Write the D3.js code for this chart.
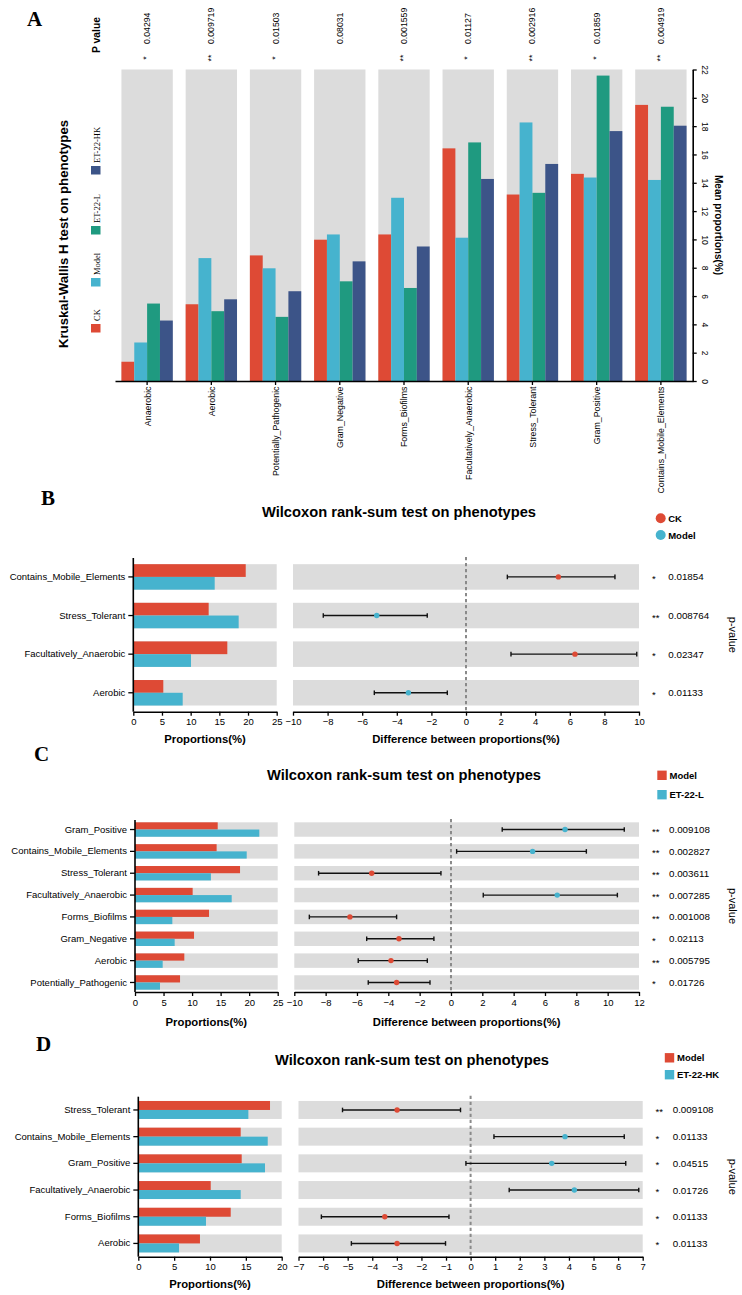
<!DOCTYPE html>
<html><head><meta charset="utf-8">
<script src="https://cdn.jsdelivr.net/npm/d3@7"></script>
<style>
body{margin:0;background:#fff}
svg{display:block}
text{font-family:"Liberation Sans",Arial,Helvetica,sans-serif;fill:#000}
.letter{font-family:"Liberation Serif","Times New Roman",serif;font-weight:bold;font-size:21px}
</style>
</head><body>
<svg id="chart" width="742" height="1295"></svg>
<script>
// ---------------- Panel A data ----------------
const phenotypesA = ["Anaerobic","Aerobic","Potentially_Pathogenic","Gram_Negative","Forms_Biofilms","Facultatively_Anaerobic","Stress_Tolerant","Gram_Positive","Contains_Mobile_Elements"];
const groupsA = ["CK","Model","ET-22-L","ET-22-HK"];
const meanCK    = [1.36,5.42,8.87,9.98,10.35,16.43,13.17,14.63,19.5];
const meanModel = [2.72,8.68,7.96,10.35,12.94,10.12,18.26,14.37,14.2];
const meanL     = [5.47,4.93,4.53,7.04,6.57,16.85,13.29,21.57,19.37];
const meanHK    = [4.27,5.77,6.34,8.45,9.5,14.27,15.33,17.65,18.03];
const pValuesA  = ["0.04294","0.009719","0.01503","0.08031","0.001559","0.01127","0.002916","0.01859","0.004919"];
const starsA    = ["*","**","*","","**","*","**","*","**"];
const ticksA    = [0,2,4,6,8,10,12,14,16,18,20,22];

// ---------------- Panel B data ----------------
const catsB   = ["Contains_Mobile_Elements","Stress_Tolerant","Facultatively_Anaerobic","Aerobic"];
const groupsB = ["CK","Model"];
const propB1  = [19.6,13.14,16.39,5.23];
const propB2  = [14.19,18.37,10.06,8.61];
const diffB   = [5.34,-5.16,6.3,-3.33];
const lowB    = [2.39,-8.25,2.6,-5.3];
const highB   = [8.61,-2.24,9.87,-1.08];
const starsB  = ["*","**","*","*"];
const pB      = ["0.01854","0.008764","0.02347","0.01133"];
const ticksBLeft  = [0,5,10,15,20,25];
const ticksBRight = [-10,-8,-6,-4,-2,0,2,4,6,8,10];

// ---------------- Panel C data ----------------
const catsC   = ["Gram_Positive","Contains_Mobile_Elements","Stress_Tolerant","Facultatively_Anaerobic","Forms_Biofilms","Gram_Negative","Aerobic","Potentially_Pathogenic"];
const groupsC = ["Model","ET-22-L"];
const propC1  = [14.49,14.3,18.4,10.1,12.97,10.34,8.64,7.89];
const propC2  = [21.78,19.57,13.3,16.94,6.54,6.95,4.85,4.38];
const diffC   = [7.28,5.21,-5.06,6.78,-6.45,-3.32,-3.83,-3.47];
const lowC    = [3.27,0.36,-8.45,2.06,-9.04,-5.38,-5.92,-5.28];
const highC   = [11.06,8.64,-0.64,10.62,-3.47,-1.09,-1.51,-1.34];
const starsC  = ["**","**","**","**","**","*","**","*"];
const pC      = ["0.009108","0.002827","0.003611","0.007285","0.001008","0.02113","0.005795","0.01726"];
const ticksCLeft  = [0,5,10,15,20,25];
const ticksCRight = [-10,-8,-6,-4,-2,0,2,4,6,8,10,12];

// ---------------- Panel D data ----------------
const catsD   = ["Stress_Tolerant","Contains_Mobile_Elements","Gram_Positive","Facultatively_Anaerobic","Forms_Biofilms","Aerobic"];
const groupsD = ["Model","ET-22-HK"];
const propD1  = [18.37,14.28,14.42,10.1,12.89,8.6];
const propD2  = [15.35,18.05,17.67,14.28,9.44,5.68];
const diffD   = [-2.99,3.84,3.3,4.22,-3.49,-2.99];
const lowD    = [-5.21,0.95,-0.19,1.57,-6.07,-4.85];
const highD   = [-0.41,6.25,6.31,6.84,-0.88,-1.02];
const starsD  = ["**","*","*","*","*","*"];
const pD      = ["0.009108","0.01133","0.04515","0.01726","0.01133","0.01133"];
const ticksDLeft  = [0,5,10,15,20];
const ticksDRight = [-7,-6,-5,-4,-3,-2,-1,0,1,2,3,4,5,6,7];

// ---------------- styling ----------------
const RED = "#DE4A35", BLUE = "#46B3CE", GREEN = "#1F9A80", NAVY = "#3C5488", GREY = "#DCDCDC";
const svg = d3.select("#chart");

function styleAxis(g, fs) {
  g.select(".domain").attr("stroke","#000").attr("stroke-width",1.6);
  g.selectAll(".tick line").attr("stroke","#000").attr("stroke-width",1.3);
  g.selectAll(".tick text").attr("font-size",fs).attr("fill","#000")
    .attr("font-family","'Liberation Sans',Arial,sans-serif");
}

// ================= Panel A =================
(function(){
  const seriesA = [meanCK, meanModel, meanL, meanHK];
  const colorsA = [RED, BLUE, GREEN, NAVY];
  const x = d3.scaleBand().domain(phenotypesA).range([115, 693]).paddingInner(0.2).paddingOuter(0.1);
  const xs = d3.scaleBand().domain(groupsA).range([0, x.bandwidth()]);
  const y = d3.scaleLinear().domain([0, 22]).range([381, 69.5]);
  const g = svg.append("g");

  g.append("text").attr("class","letter").attr("x",27).attr("y",26).text("A");

  g.selectAll("rect.bgA").data(phenotypesA).join("rect").attr("class","bgA")
    .attr("x", d => x(d)).attr("y", y(22)).attr("width", x.bandwidth())
    .attr("height", y(0) - y(22)).attr("fill", GREY);

  groupsA.forEach((grp, gi) => {
    g.selectAll("rect.bar" + gi).data(phenotypesA).join("rect").attr("class","bar" + gi)
      .attr("x", d => x(d) + xs(grp)).attr("width", xs.bandwidth())
      .attr("y", (d, i) => y(seriesA[gi][i]))
      .attr("height", (d, i) => y(0) - y(seriesA[gi][i]))
      .attr("fill", colorsA[gi]);
  });

  // bottom axis
  const ax = g.append("g").attr("transform","translate(0,381)")
    .call(d3.axisBottom(x).tickSize(4).tickSizeOuter(0).tickFormat(""));
  styleAxis(ax, 9);
  g.selectAll("text.xlabA").data(phenotypesA).join("text").attr("class","xlabA")
    .attr("transform", d => `translate(${x(d) + x.bandwidth()/2 + 3.4},386.5) rotate(-90)`)
    .attr("text-anchor","end").attr("font-size",8.8).text(d => d);

  // right axis
  const ay = g.append("g").attr("transform","translate(692.7,0)")
    .call(d3.axisRight(y).tickValues(ticksA).tickSize(4).tickSizeOuter(0));
  styleAxis(ay, 8.5);
  ay.selectAll(".tick text").attr("x",0).attr("dy",0)
    .attr("transform","translate(9.5,0) rotate(90)").attr("text-anchor","middle");
  g.append("text").attr("transform","translate(715,225) rotate(90)")
    .attr("text-anchor","middle").attr("font-weight","bold").attr("font-size",10)
    .text("Mean proportions(%)");

  // p values
  g.append("text").attr("transform","translate(100,35) rotate(-90)")
    .attr("text-anchor","middle").attr("font-weight","bold").attr("font-size",10.3).text("P value");
  g.selectAll("text.pA").data(phenotypesA).join("text").attr("class","pA")
    .attr("transform", d => `translate(${x(d) + x.bandwidth()/2 + 3},44) rotate(-90)`)
    .attr("text-anchor","start").attr("font-size",8.7).text((d,i) => pValuesA[i]);
  g.selectAll("text.sA").data(phenotypesA).join("text").attr("class","sA")
    .attr("transform", d => `translate(${x(d) + x.bandwidth()/2 + 2.2},58) rotate(-90)`)
    .attr("text-anchor","middle").attr("font-size",8.7).text((d,i) => starsA[i]);

  // title
  g.append("text").attr("transform","translate(68,234) rotate(-90)")
    .attr("text-anchor","middle").attr("font-weight","bold").attr("font-size",13.2)
    .text("Kruskal-Wallis H test on phenotypes");

  // legend
  const legTop = [324, 278, 226, 166];
  groupsA.forEach((grp, gi) => {
    g.append("rect").attr("x",91).attr("y",legTop[gi]).attr("width",9.5).attr("height",8.5).attr("fill",colorsA[gi]);
    g.append("text").attr("transform",`translate(99.5,${legTop[gi]-3}) rotate(-90)`)
      .attr("text-anchor","start").attr("font-size",8.5)
      .attr("font-family","'Liberation Serif','Times New Roman',serif").style("font-family","'Liberation Serif','Times New Roman',serif")
      .text(grp);
  });
})();

// ================= Panels B, C, D =================
function drawPanel(p) {
  const g = svg.append("g");
  const y = d3.scaleBand().domain(p.cats).range(p.yRange).paddingInner(p.pi).paddingOuter(p.po);
  const xl = d3.scaleLinear().domain(p.leftDomain).range(p.leftRange);
  const xr = d3.scaleLinear().domain(p.rightDomain).range(p.rightRange);
  const bw = y.bandwidth();
  const yb = p.yRange[1];

  g.append("text").attr("class","letter").attr("x",p.letterPos[0]).attr("y",p.letterPos[1]).text(p.letter);
  g.append("text").attr("x",p.titlePos[0]).attr("y",p.titlePos[1]).attr("text-anchor","middle")
    .attr("font-weight","bold").attr("font-size",14.7).text("Wilcoxon rank-sum test on phenotypes");

  // left bars
  g.selectAll("rect.lbg").data(p.cats).join("rect").attr("class","lbg")
    .attr("x", xl(p.leftDomain[0])).attr("y", d => y(d))
    .attr("width", xl(p.leftDomain[1]) - xl(p.leftDomain[0])).attr("height", bw).attr("fill", GREY);
  g.selectAll("rect.b1").data(p.cats).join("rect").attr("class","b1")
    .attr("x", xl(0)).attr("y", d => y(d)).attr("height", bw/2)
    .attr("width", (d,i) => xl(p.v1[i]) - xl(0)).attr("fill", RED);
  g.selectAll("rect.b2").data(p.cats).join("rect").attr("class","b2")
    .attr("x", xl(0)).attr("y", d => y(d) + bw/2).attr("height", bw/2)
    .attr("width", (d,i) => xl(p.v2[i]) - xl(0)).attr("fill", BLUE);

  const axl = g.append("g").attr("transform",`translate(${p.leftRange[0]},0)`)
    .call(d3.axisLeft(y).tickSize(5).tickPadding(3).tickSizeOuter(0));
  styleAxis(axl, 9.5);
  axl.select(".domain").attr("d", `M0,${p.yRange[0]}V${yb}`);
  const axb = g.append("g").attr("transform",`translate(0,${yb})`)
    .call(d3.axisBottom(xl).tickValues(p.leftTicks).tickSize(4).tickPadding(3).tickSizeOuter(0));
  styleAxis(axb, 9.5);
  g.append("text").attr("x",(p.leftRange[0]+p.leftRange[1])/2).attr("y",p.xlabY)
    .attr("text-anchor","middle").attr("font-weight","bold").attr("font-size",11.3).text("Proportions(%)");

  // right CI plot
  g.selectAll("rect.rbg").data(p.cats).join("rect").attr("class","rbg")
    .attr("x", xr(p.rightDomain[0])).attr("y", d => y(d))
    .attr("width", xr(p.rightDomain[1]) - xr(p.rightDomain[0])).attr("height", bw).attr("fill", GREY);
  g.append("line").attr("x1",xr(0)).attr("x2",xr(0)).attr("y1",p.yRange[0]-1).attr("y2",yb)
    .attr("stroke","#8a8a8a").attr("stroke-width",2).attr("stroke-dasharray","3.2,2.8");
  const cy = d => y(d) + bw/2;
  g.selectAll("line.ci").data(p.cats).join("line").attr("class","ci")
    .attr("x1",(d,i)=>xr(p.lo[i])).attr("x2",(d,i)=>xr(p.hi[i])).attr("y1",cy).attr("y2",cy)
    .attr("stroke","#111").attr("stroke-width",1.4);
  ["lo","hi"].forEach(k => {
    g.selectAll("line.cap"+k).data(p.cats).join("line").attr("class","cap"+k)
      .attr("x1",(d,i)=>xr(p[k][i])).attr("x2",(d,i)=>xr(p[k][i]))
      .attr("y1",d=>cy(d)-2.3).attr("y2",d=>cy(d)+2.3).attr("stroke","#111").attr("stroke-width",1.4);
  });
  g.selectAll("circle.pt").data(p.cats).join("circle").attr("class","pt")
    .attr("cx",(d,i)=>xr(p.diff[i])).attr("cy",cy).attr("r",2.7)
    .attr("fill",(d,i)=> p.v1[i] >= p.v2[i] ? RED : BLUE);

  const axr = g.append("g").attr("transform",`translate(0,${yb})`)
    .call(d3.axisBottom(xr).tickValues(p.rightTicks).tickSize(4).tickPadding(3).tickSizeOuter(0));
  styleAxis(axr, 9.5);
  g.append("text").attr("x",(p.rightRange[0]+p.rightRange[1])/2).attr("y",p.xlabY)
    .attr("text-anchor","middle").attr("font-weight","bold").attr("font-size",11.3)
    .text("Difference between proportions(%)");

  // p values
  g.selectAll("text.st").data(p.cats).join("text").attr("class","st")
    .attr("x",p.starX).attr("y",d=>cy(d)+5).attr("font-size",9.5).text((d,i)=>p.stars[i]);
  g.selectAll("text.pv").data(p.cats).join("text").attr("class","pv")
    .attr("x",p.pX).attr("y",d=>cy(d)+3.5).attr("font-size",9.8).text((d,i)=>p.pvals[i]);
  g.append("text").attr("transform",`translate(729,${(p.yRange[0]+yb)/2}) rotate(90)`)
    .attr("text-anchor","middle").attr("font-size",11).text("p-value");

  // legend
  p.groups.forEach((grp, gi) => {
    const ly = p.legY[gi];
    if (p.legShape === "circle") {
      g.append("circle").attr("cx",p.legX).attr("cy",ly).attr("r",5).attr("fill", gi===0?RED:BLUE);
    } else {
      g.append("rect").attr("x",p.legX-4.7).attr("y",ly-4.7).attr("width",9.4).attr("height",9.4).attr("fill", gi===0?RED:BLUE);
    }
    g.append("text").attr("x",p.legX+7.5).attr("y",ly+3.5).attr("font-weight","bold").attr("font-size",9.5).text(grp);
  });
}

drawPanel({letter:"B", letterPos:[41,505], titlePos:[399,517],
  cats:catsB, groups:groupsB, v1:propB1, v2:propB2, diff:diffB, lo:lowB, hi:highB, stars:starsB, pvals:pB,
  yRange:[558,711.7], pi:0.34, po:0.16,
  leftDomain:[0,25], leftRange:[133.3,276.7], leftTicks:ticksBLeft,
  rightDomain:[-10,10], rightRange:[293,639], rightTicks:ticksBRight,
  xlabY:742.5, starX:652, pX:668.3, legShape:"circle", legX:660.7, legY:[518.3,535]});

drawPanel({letter:"C", letterPos:[34,761], titlePos:[404,780],
  cats:catsC, groups:groupsC, v1:propC1, v2:propC2, diff:diffC, lo:lowC, hi:highC, stars:starsC, pvals:pC,
  yRange:[820,992], pi:0.34, po:0.106,
  leftDomain:[0,25], leftRange:[135,277.7], leftTicks:ticksCLeft,
  rightDomain:[-10,12], rightRange:[294.3,639], rightTicks:ticksCRight,
  xlabY:1026.3, starX:652, pX:669, legShape:"square", legX:662, legY:[775.3,794.7]});

drawPanel({letter:"D", letterPos:[36,1050.5], titlePos:[412,1064.5],
  cats:catsD, groups:groupsD, v1:propD1, v2:propD2, diff:diffD, lo:lowD, hi:highD, stars:starsD, pvals:pD,
  yRange:[1096.7,1256.7], pi:0.326, po:0.16,
  leftDomain:[0,20], leftRange:[138.3,281.7], leftTicks:ticksDLeft,
  rightDomain:[-7,7], rightRange:[298.5,642.7], rightTicks:ticksDRight,
  xlabY:1288, starX:655.5, pX:672.7, legShape:"square", legX:669.5, legY:[1057.8,1074.7]});
</script>
</body></html>
